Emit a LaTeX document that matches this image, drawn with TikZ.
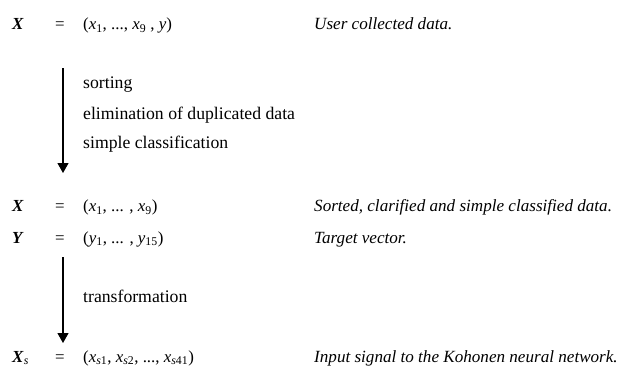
\documentclass[tikz,border=0pt]{standalone}
\usepackage{fontspec}
\setmainfont{Liberation Serif}
\usetikzlibrary{arrows.meta}

\newcommand{\vb}[1]{\textbf{\textit{#1}}}
\newcommand{\vi}[1]{\textit{#1}}

\begin{document}
\begin{tikzpicture}[x=1pt,y=1pt,
  txt/.style={inner sep=0pt, anchor=base west, font=\fontsize{16.9}{19}\selectfont},
  note/.style={inner sep=0pt, anchor=base west, font=\fontsize{17.1}{19}\selectfont\itshape},
  stepnote/.style={inner sep=0pt, anchor=base west, font=\fontsize{17.7}{20}\selectfont},
  eqs/.style={inner sep=0pt, anchor=base, font=\fontsize{16.9}{19}\selectfont},
  flow/.style={line width=1.1pt, -{Triangle[length=10pt,width=11pt]}}]
  \useasboundingbox (0,0) rectangle (628,-367);

  % first stage: raw data
  \node[txt]  (x1)  at (12,-29.5)  {\vb{X}};
  \node[eqs]  (e1)  at (60,-29.5)  {=};
  \node[txt]  (v1)  at (83,-29.5)  {(\vi{x}\textsubscript{1}, ..., \vi{x}\textsubscript{9} , \vi{y})};
  \node[note] (d1)  at (314,-29.5) {User collected data.};

  % preprocessing steps
  \coordinate (a1s) at (63,-68);
  \coordinate (a1e) at (63,-173);
  \draw[flow] (a1s) -- (a1e);
  \node[stepnote] (s1) at (83,-88.5)  {sorting};
  \node[stepnote] (s2) at (83,-119)   {elimination of duplicated data};
  \node[stepnote] (s3) at (83,-148)   {simple classification};

  % second stage: cleaned data and target
  \node[txt]  (x2)  at (12,-211.5)  {\vb{X}};
  \node[eqs]  (e2)  at (60,-211.5)  {=};
  \node[txt]  (v2)  at (83,-211.5)  {(\vi{x}\textsubscript{1}, ... , \vi{x}\textsubscript{9})};
  \node[note] (d2)  at (314,-211.5) {Sorted, clarified and simple classified data.};

  \node[txt]  (y2)  at (12,-243)  {\vb{Y}};
  \node[eqs]  (e3)  at (60,-243)  {=};
  \node[txt]  (v3)  at (83,-243)  {(\vi{y}\textsubscript{1}, ... , \vi{y}\textsubscript{15})};
  \node[note] (d3)  at (314,-243) {Target vector.};

  % transformation step
  \coordinate (a2s) at (63,-257);
  \coordinate (a2e) at (63,-343);
  \draw[flow] (a2s) -- (a2e);
  \node[stepnote] (s4) at (83,-302) {transformation};

  % third stage: network input
  \node[txt]  (x3)  at (12,-362)  {\vb{X}\textsubscript{\vi{s}}};
  \node[eqs]  (e4)  at (60,-362)  {=};
  \node[txt]  (v4)  at (83,-362)  {(\vi{x}\textsubscript{\vi{s}1}, \vi{x}\textsubscript{\vi{s}2}, ..., \vi{x}\textsubscript{\vi{s}41})};
  \node[note] (d4)  at (314,-362) {Input signal to the Kohonen neural network.};
\end{tikzpicture}
\end{document}
